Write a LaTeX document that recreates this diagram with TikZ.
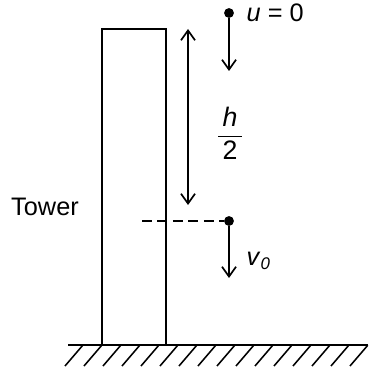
\documentclass[tikz,border=0pt]{standalone}
\usepackage{fontspec}
\setmainfont{Liberation Sans}
\usetikzlibrary{arrows.meta,positioning}

\begin{document}
\begin{tikzpicture}[x=0.025cm,y=-0.025cm,
        wall/.style={draw,line width=1.4pt,inner sep=0pt,minimum width=1.6cm,minimum height=7.9cm},
        arrow/.style={line width=1.2pt,-{Straight Barb[length=7pt,width=10pt,line width=1.2pt]}},
        dblarrow/.style={line width=1.2pt,{Straight Barb[length=7pt,width=10pt,line width=1.2pt]}-{Straight Barb[length=7pt,width=10pt,line width=1.2pt]}},
        dot/.style={circle,fill=black,inner sep=0pt,minimum size=7pt},
        lbl/.style={font=\fontsize{18}{21}\selectfont,inner sep=1pt},
    ]
    \useasboundingbox (0,0) rectangle (368,372);

    % tower and ground
    \node[wall] (tower) at (134,187) {};
    \node[lbl] (towerlbl) at (45,207) {Tower};
    \coordinate (gl) at (68,345);
    \coordinate (gr) at (368,345);
    \draw[line width=1.4pt] (gl) -- (gr);
    \begin{scope}
        \clip (60,345) rectangle (368,368);
        \foreach \i in {0,...,16}
            \draw[line width=1.1pt] (65+\i*19,366) -- ++(18,-21);
    \end{scope}

    % ball positions
    \node[dot] (top) at (229,13) {};
    \node[dot] (mid) at (229,221) {};
    \coordinate (topend) at (229,71);
    \coordinate (midend) at (229,278);
    \coordinate (dashstart) at (142,221);
    \draw[arrow] (top) -- (topend);
    \draw[arrow] (mid) -- (midend);
    \draw[line width=1.2pt,dash pattern=on 7pt off 4pt] (dashstart) -- (mid);

    \node[lbl,anchor=west] (ulbl) at (245,13) {\textit{u} = 0};
    \node[lbl,anchor=west] (vlbl) at (245,261) {\textit{v}\raisebox{-0.35ex}{\fontsize{12}{14}\selectfont\textit{0}}};

    % height marker
    \coordinate (htop) at (188,29);
    \coordinate (hbot) at (188,205);
    \draw[dblarrow] (htop) -- (hbot);
    \node[lbl] (hlbl) at (230,133) {$\displaystyle\frac{\mbox{\fontsize{19}{21}\selectfont\,\itshape h\,}}{\mbox{\fontsize{19}{21}\selectfont\,2\,}}$};
\end{tikzpicture}
\end{document}
